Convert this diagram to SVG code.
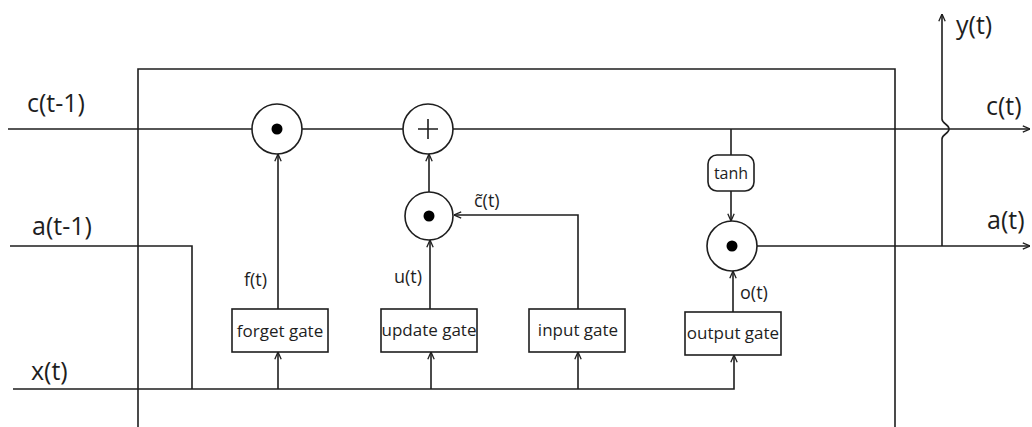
<svg xmlns="http://www.w3.org/2000/svg" width="1032" height="427" viewBox="0 0 1032 427">
  <style>
    .ln { fill: none; stroke: #1e1e1e; stroke-width: 1.6; }
    .arw { marker-end: url(#arr); }
    .op { fill: #fff; stroke: #1e1e1e; stroke-width: 1.6; }
    .gate { fill: #fff; stroke: #1e1e1e; stroke-width: 1.6; }
    .dot { fill: #000; }
    text { font-family: "Open Sans", "Noto Sans", sans-serif; fill: #1e1e1e; }
    .big { font-size: 25px; }
    .sm { font-size: 18px; }
    .gl { font-size: 17px; text-anchor: middle; }
  </style>
  <defs>
    <marker id="arr" viewBox="0 0 10 10" refX="10" refY="5" markerWidth="8" markerHeight="8" orient="auto" markerUnits="userSpaceOnUse">
      <path d="M1,1 L10,5 L1,9" fill="none" stroke="#1e1e1e" stroke-width="1.6"/>
    </marker>
  </defs>

  <!-- cell boundary, open at the bottom -->
  <path id="cell" class="ln" d="M138,427 V69 H895 V427"/>

  <g id="connectors">
    <!-- cell state c(t-1) -> c(t) -->
    <path class="ln arw" d="M8,129 H1030"/>
    <!-- a(t-1) joins the x(t) bus -->
    <path class="ln" d="M10,246 H192 V389"/>
    <!-- x(t) bus feeding every gate -->
    <path class="ln arw" d="M13,389 H734 V355"/>
    <path class="ln arw" d="M278,389 V352"/>
    <path class="ln arw" d="M431,389 V352"/>
    <path class="ln arw" d="M578,389 V352"/>
    <!-- forget gate -> multiply -->
    <path class="ln arw" d="M278,309 V154"/>
    <!-- update gate -> multiply -> add -->
    <path class="ln arw" d="M430,309 V240"/>
    <path class="ln arw" d="M429,192 V154"/>
    <!-- input gate candidate -> multiply -->
    <path class="ln arw" d="M578,309 V215 H454"/>
    <!-- c(t) -> tanh -> output multiply -->
    <path class="ln" d="M731,129 V155"/>
    <path class="ln arw" d="M731,191 V221"/>
    <!-- output gate -> multiply -->
    <path class="ln arw" d="M733,312 V271"/>
    <!-- a(t) out -->
    <path class="ln arw" d="M757,246 H1030"/>
    <!-- y(t) branch, hopping over c(t) -->
    <path class="ln arw" d="M942,246 V139 C942,134 949,134 949,129 C949,124 942,124 942,119 V14"/>
  </g>

  <g id="forget-mul">
    <circle class="op" cx="277" cy="129" r="25"/>
    <circle class="dot" cx="277" cy="129" r="5.5"/>
  </g>
  <g id="add">
    <circle class="op" cx="428" cy="129" r="25"/>
    <path class="ln" d="M418,129 H438 M428,119 V139"/>
  </g>
  <g id="update-mul">
    <circle class="op" cx="429" cy="216" r="24"/>
    <circle class="dot" cx="429" cy="216" r="5.5"/>
  </g>
  <g id="output-mul">
    <circle class="op" cx="732" cy="246" r="25"/>
    <circle class="dot" cx="732" cy="246" r="5.5"/>
  </g>
  <g id="tanh">
    <rect class="gate" x="708" y="155" width="46" height="36" rx="9"/>
    <text class="gl" x="731" y="179" style="font-size:16px">tanh</text>
  </g>

  <g id="forget-gate">
    <rect class="gate" x="232" y="309" width="96" height="43"/>
    <text class="gl" x="280" y="337">forget gate</text>
  </g>
  <g id="update-gate">
    <rect class="gate" x="381" y="309" width="96" height="43"/>
    <text class="gl" x="429" y="336">update gate</text>
  </g>
  <g id="input-gate">
    <rect class="gate" x="529" y="309" width="96" height="43"/>
    <text class="gl" x="578" y="336">input gate</text>
  </g>
  <g id="output-gate">
    <rect class="gate" x="685" y="312" width="96" height="43"/>
    <text class="gl" x="733" y="339">output gate</text>
  </g>

  <g id="labels">
    <text class="big" x="27" y="112">c(t-1)</text>
    <text class="big" x="32" y="235">a(t-1)</text>
    <text class="big" x="31" y="380">x(t)</text>
    <text class="big" x="956" y="34">y(t)</text>
    <text class="big" x="986" y="115">c(t)</text>
    <text class="big" x="987" y="229">a(t)</text>
    <text class="sm" x="244" y="286">f(t)</text>
    <text class="sm" x="394" y="283">u(t)</text>
    <text class="sm" x="474" y="207">c̃(t)</text>
    <text class="sm" x="740" y="299">o(t)</text>
  </g>
</svg>
